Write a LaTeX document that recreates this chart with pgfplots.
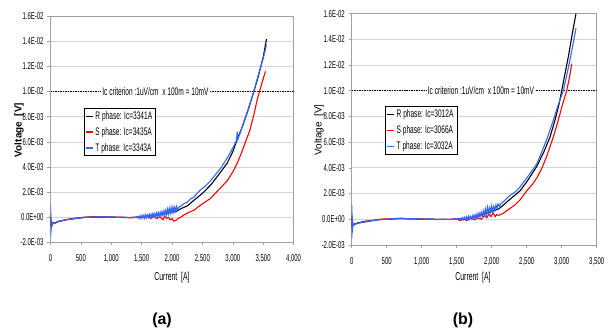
\documentclass[border=0pt]{standalone}
\usepackage{fontspec}
\setmainfont{Liberation Sans}
\newfontfamily\cond[FakeStretch=0.6]{Liberation Sans}
\usepackage{pgfplots}
\pgfplotsset{compat=1.18}
\definecolor{rser}{RGB}{255,0,0}
\definecolor{tser}{RGB}{51,102,255}
\definecolor{gridc}{RGB}{212,212,212}
\definecolor{framec}{RGB}{160,160,160}
\pgfplotsset{
  myax/.style={
    scale only axis, anchor=south west,
    ymin=-0.002, ymax=0.016,
    ytick={-0.002,0,0.002,0.004,0.006,0.008,0.01,0.012,0.014,0.016},
    yticklabels={-2.0E-03,0.0E+00,2.0E-03,4.0E-03,6.0E-03,8.0E-03,1.0E-02,1.2E-02,1.4E-02,1.6E-02},
    ymajorgrids, xmajorgrids=false,
    grid style={gridc, line width=0.6pt},
    axis line style={framec, line width=0.6pt},
    tick style={framec, line width=0.5pt},
    tick align=outside, major tick length=3bp,
    xtick pos=bottom, ytick pos=left,
    tick label style={font=\cond\fontsize{10}{11}\selectfont, text=black},
    xticklabel style={yshift=-6bp},
    yticklabel style={xshift=-0.5bp},
    scaled y ticks=false, scaled x ticks=false,
    legend cell align=left,
    legend image code/.code={\draw[#1, line width=1.2pt] (0bp,0bp) -- (7bp,0bp);},
    legend style={draw=black, line width=0.5pt, fill=white,
      font=\cond\fontsize{11}{12}\selectfont,
      inner xsep=1.5pt, inner ysep=1pt, row sep=2.5bp,
      /tikz/every even column/.append style={column sep=2bp}},
    every axis plot/.append style={line width=1.1pt},
  }
}
\begin{document}
\begin{tikzpicture}
\useasboundingbox (0,0) rectangle (608bp,329bp);
% ---------------- (a) ----------------
\begin{axis}[myax, at={(50.5bp,86.5bp)}, width=243bp, height=226.5bp,
  xmin=0, xmax=4000,
  xtick={0,500,1000,1500,2000,2500,3000,3500,4000},
  xticklabels={0,500,{1,000},{1,500},{2,000},{2,500},{3,000},{3,500},{4,000}},
  legend style={at={(0.136,0.593)}, anchor=north west}]
\addplot[black, line width=0.6pt, dash pattern=on 1.5pt off 1pt, forget plot] coordinates {(0,0.01) (4000,0.01)};
\addplot[black] coordinates {
(0,0.0002)(8,-0.0006)(30,-0.0005)(60,-0.00045)(150,-0.0003)(250,-0.0002)(400,-0.0001)(550,0)(700,0.00003)(900,0.00003)(1100,0)(1300,-0.00003)(1500,0.00005)(1600,0.0001)(1700,0.00015)(1800,0.0002)(1900,0.0003)(2000,0.0004)(2085,0.0005)(2150,0.0007)(2250,0.0009)(2359,0.00135)(2500,0.0019)(2634,0.00255)(2770,0.0034)(2908,0.0043)(3000,0.0052)(3073,0.0062)(3150,0.0071)(3250,0.0085)(3347,0.0100)(3420,0.0112)(3500,0.0127)(3555,0.01416)};
\addlegendentry{R phase: Ic=3341A}
\addplot[rser] coordinates {
(0,-0.0002)(5,-0.0008)(12,-0.0004)(20,-0.0007)(40,-0.0005)(80,-0.00045)(150,-0.0003)(250,-0.0002)(350,-0.0001)(450,-0.00005)(550,0)(650,0.00003)(800,0.00004)(1000,0.00002)(1200,0)(1400,-0.00002)(1500,0)(1600,0.00005)(1650,-0.0001)(1700,0.0001)(1750,-0.0001)(1800,0.00005)(1850,-0.0002)(1880,0.0001)(1910,-0.0001)(1940,0.0)(1970,-0.0002)(2000,-0.0001)(2030,-0.0003)(2058,-0.00025)(2100,-0.0001)(2140,0)(2200,0.0002)(2280,0.0004)(2359,0.00056)(2450,0.0009)(2540,0.0012)(2634,0.0015)(2750,0.0021)(2850,0.0026)(2908,0.0029)(3000,0.0036)(3073,0.0043)(3150,0.0052)(3210,0.0060)(3281,0.0069)(3350,0.0082)(3400,0.0093)(3440,0.0100)(3500,0.0110)(3539,0.0116)};
\addlegendentry{S phase: Ic=3435A}
\addplot[tser] coordinates {
(0,0.0009)(3,-0.0016)(6,0.0004)(10,-0.0012)(15,-0.0003)(25,-0.0006)(40,-0.0004)(60,-0.0005)(100,-0.0004)(150,-0.0003)(200,-0.00025)(300,-0.00015)(400,-0.0001)(500,-0.00005)(600,0)(700,0.00002)(800,0.00005)(900,0.00002)(1000,0.00004)(1100,0)(1200,0.00002)(1300,-0.00003)(1400,0)
(1450,0.00008)(1460,-0.00008)(1475,0.00012)(1490,-0.00008)(1505,0.00015)(1520,-0.00005)(1535,0.00015)(1550,-0.00008)(1565,0.0002)(1580,-0.00003)(1595,0.00018)(1610,0)(1625,0.00025)(1640,0)(1655,0.00025)(1670,0.00002)(1685,0.0003)(1700,0.00005)(1715,0.00028)(1730,0.00003)(1745,0.00035)(1760,0.0001)(1775,0.00035)(1790,0.00008)(1805,0.0004)(1820,0.00012)(1835,0.00045)(1850,0.00016)(1865,0.0005)(1880,0.0002)(1895,0.00055)(1910,0.00022)(1925,0.00065)(1940,0.00028)(1955,0.0007)(1970,0.00032)(1985,0.00078)(2000,0.00038)(2015,0.0008)(2030,0.00042)(2045,0.0008)(2060,0.0005)(2075,0.00085)(2090,0.0006)(2110,0.0008)
(2150,0.0009)(2200,0.0011)(2250,0.0012)(2300,0.00145)(2359,0.0016)(2450,0.0021)(2550,0.0025)(2634,0.0029)(2700,0.0033)(2800,0.0039)(2908,0.0047)(3000,0.0055)(3060,0.0061)(3075,0.0068)(3085,0.0062)(3150,0.0071)(3250,0.0085)(3347,0.0100)(3420,0.0113)(3500,0.0126)(3555,0.0137)};
\addlegendentry{T phase: Ic=3343A}
\node[fill=white, inner xsep=1pt, inner ysep=0.5pt, font=\cond\fontsize{11}{12}\selectfont] at (axis cs:1728,0.01) {Ic criterion :1uV/cm\ \ x 100m = 10mV};
\end{axis}
% ---------------- (b) ----------------
\begin{axis}[myax, at={(351.7bp,84.1bp)}, width=245bp, height=231.3bp,
  xmin=0, xmax=3500,
  xtick={0,500,1000,1500,2000,2500,3000,3500},
  xticklabels={0,500,{1,000},{1,500},{2,000},{2,500},{3,000},{3,500}},
  legend style={at={(0.135,0.599)}, anchor=north west}]
\addplot[black, line width=0.6pt, dash pattern=on 1.5pt off 1pt, forget plot] coordinates {(0,0.01) (3500,0.01)};
\addplot[black] coordinates {
(0,0.0003)(8,-0.0006)(30,-0.0004)(80,-0.0003)(200,-0.00015)(300,-0.0001)(400,-0.00003)(500,0)(700,0.00005)(900,0.00002)(1100,0)(1300,-0.00002)(1500,0)(1600,0.00005)(1700,0.0001)(1800,0.0002)(1900,0.0004)(2000,0.0006)(2100,0.0008)(2166,0.0011)(2250,0.0015)(2404,0.0022)(2500,0.0029)(2643,0.0041)(2750,0.0053)(2833,0.0064)(2904,0.0077)(2960,0.0089)(3000,0.0100)(3050,0.0114)(3100,0.0128)(3150,0.0144)(3204,0.0160)};
\addlegendentry{R phase: Ic=3012A}
\addplot[rser] coordinates {
(0,-0.0001)(5,-0.0006)(15,-0.0004)(40,-0.0004)(100,-0.0003)(200,-0.0002)(300,-0.0001)(400,0)(500,0.00002)(700,0.00006)(900,0.00003)(1100,0)(1300,-0.00002)(1500,0)(1550,-0.0001)(1600,0.00005)(1650,-0.0001)(1700,0.0001)(1750,-0.00005)(1800,0.0001)(1850,0.0)(1900,0.0003)(1930,0.0001)(1960,0.0004)(1990,0.0002)(2020,0.0005)(2050,0.0002)(2071,0.00035)(2100,0.0003)(2166,0.00046)(2250,0.0008)(2330,0.0011)(2404,0.0015)(2500,0.0022)(2580,0.0027)(2643,0.0032)(2720,0.0040)(2786,0.0049)(2880,0.0064)(2951,0.0077)(3010,0.0089)(3071,0.0100)(3110,0.0110)(3143,0.0121)};
\addlegendentry{S phase: Ic=3066A}
\addplot[tser] coordinates {
(0,0.0011)(3,-0.0015)(6,0.0005)(10,-0.0010)(15,-0.0002)(25,-0.0005)(47,-0.0004)(100,-0.0003)(200,-0.0002)(309,-0.0001)(400,-0.00003)(500,0)(600,0.00005)(700,0.00008)(800,0.00003)(900,0.00005)(1000,0.0)(1100,0.00002)(1200,-0.00003)(1300,0)(1400,-0.00002)(1500,0.00002)
(1550,0.00008)(1565,-0.00008)(1580,0.00012)(1595,-0.00005)(1610,0.00015)(1625,-0.00005)(1640,0.00018)(1655,0)(1670,0.00025)(1685,0)(1700,0.00022)(1715,0.00002)(1730,0.0003)(1745,0.00006)(1760,0.00035)(1775,0.0001)(1790,0.00042)(1805,0.00015)(1820,0.00048)(1835,0.0002)(1850,0.00055)(1865,0.00022)(1880,0.00065)(1895,0.0003)(1910,0.0008)(1925,0.0004)(1940,0.00095)(1955,0.0005)(1970,0.0009)(1985,0.00055)(2000,0.00105)(2015,0.0006)(2030,0.001)(2045,0.0007)(2060,0.0011)(2075,0.0008)(2090,0.0012)(2110,0.001)(2130,0.0012)
(2166,0.00136)(2250,0.0018)(2330,0.0021)(2404,0.0025)(2500,0.0032)(2580,0.0038)(2643,0.0043)(2720,0.0053)(2786,0.0062)(2880,0.0077)(2950,0.0089)(3023,0.0100)(3080,0.0114)(3140,0.0130)(3204,0.01486)};
\addlegendentry{T phase: Ic=3032A}
\node[fill=white, inner xsep=1pt, inner ysep=0.5pt, font=\cond\fontsize{11}{12}\selectfont] at (axis cs:1847,0.01) {Ic criterion :1uV/cm\ \ x 100m = 10mV};
\end{axis}
% ---------------- labels ----------------
\node[font=\cond\fontsize{11.5}{13}\selectfont] at (172bp,51bp) {Current\ \ [A]};
\node[font=\cond\fontsize{11.5}{13}\selectfont] at (473bp,51bp) {Current\ \ [A]};
\node[rotate=90, font=\bfseries\fontsize{10}{12}\selectfont] at (19bp,199bp) {Voltage\ \ [V]};
\node[rotate=90, font=\fontsize{10}{12}\selectfont] at (319bp,199bp) {Voltage\ \ [V]};
\node[font=\bfseries\fontsize{16}{18}\selectfont] at (162bp,9bp) {(a)};
\node[font=\bfseries\fontsize{16}{18}\selectfont] at (463bp,9bp) {(b)};
\end{tikzpicture}
\end{document}
